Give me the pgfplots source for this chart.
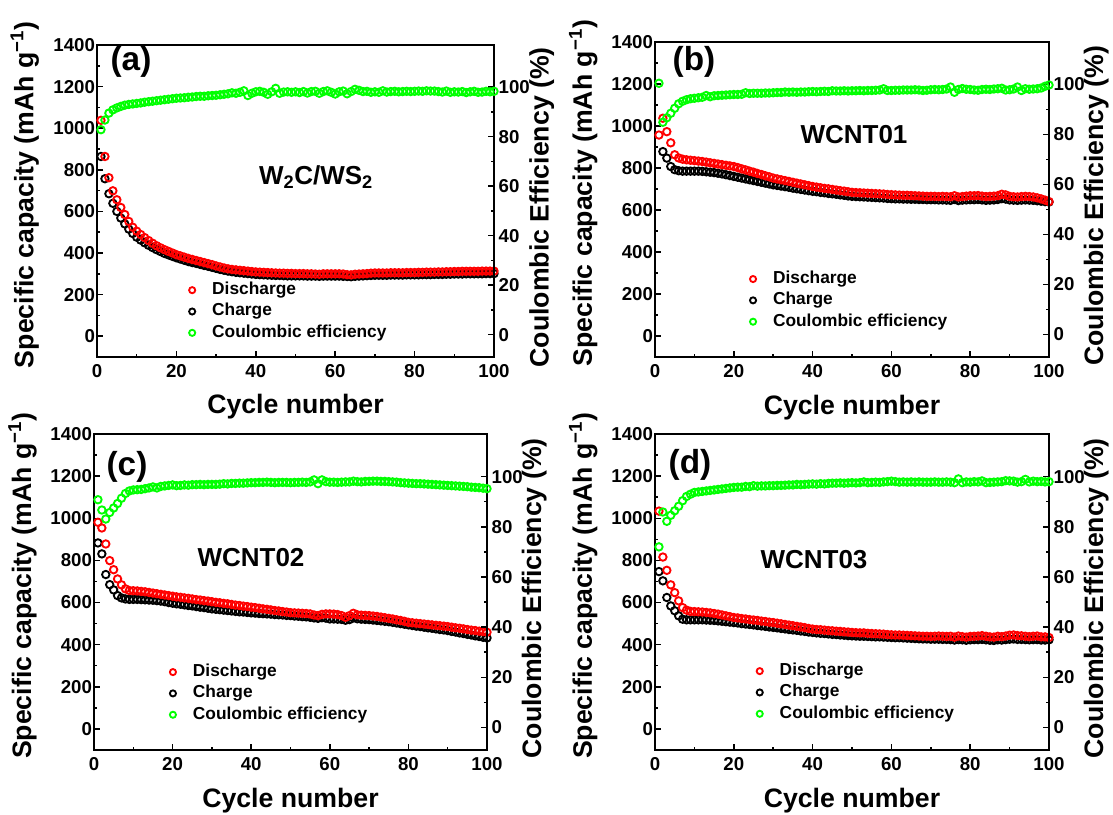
\documentclass[border=0pt]{standalone}
\usepackage{fontspec}
\setmainfont{Liberation Sans}
\usepackage{pgfplots}
\usepackage{pgfplotstable}
\pgfplotsset{compat=1.18}

\definecolor{cered}{HTML}{FF0000}
\definecolor{cegreen}{HTML}{00FF00}

% cycle, discharge, charge, coulombic efficiency
\pgfplotstableread{
c d ch ce
1 1038 864 82.8
2 864 757 86.7
3 762 685 89.5
4 699 639 90.8
5 656 600 91.6
6 619 568 92.2
7 585 540 92.7
8 552 515 93.0
9 524 494 93.2
10 505 476 93.4
11 489 462 93.6
12 474 449 93.9
13 460 437 94.1
14 447 426 94.3
15 435 416 94.5
16 425 407 94.7
17 416 398 94.9
18 408 391 95.1
19 400 384 95.3
20 392 377 95.5
21 386 371 95.6
22 380 365 95.7
23 374 359 95.9
24 369 354 96.0
25 364 350 96.2
26 359 345 96.3
27 354 340 96.3
28 349 336 96.5
29 344 331 96.6
30 338 326 96.7
31 333 321 96.9
32 328 317 97.1
33 324 313 97.3
34 321 310 97.7
35 319 307 97.5
36 317 305 97.9
37 315 303 98.5
38 313 301 96.6
39 311 299 97.5
40 309 297 98.1
41 308 296 98.3
42 307 295 97.9
43 306 294 97.1
44 305 293 98.1
45 304 292 99.5
46 303 292 97.5
47 303 291 98.0
48 302 290 98.1
49 302 290 97.9
50 301 290 98.1
51 301 290 97.8
52 301 290 98.2
53 300 289 97.6
54 300 289 98.2
55 299 289 98.3
56 298 288 97.5
57 300 289 98.2
58 300 289 98.5
59 300 289 97.9
60 300 289 97.2
61 300 289 98.1
62 299 288 98.4
63 296 287 97.3
64 295 286 98.2
65 298 288 99.1
66 299 289 98.7
67 300 290 98.2
68 301 291 98.3
69 303 292 97.9
70 304 293 98.1
71 304 293 97.9
72 304 293 98.5
73 304 293 98.0
74 305 294 98.2
75 305 294 98.3
76 305 294 98.1
77 305 294 98.2
78 306 295 98.3
79 306 295 98.2
80 306 295 98.3
81 307 295 98.4
82 307 296 98.3
83 308 296 98.5
84 308 296 98.4
85 308 297 98.4
86 309 297 98.2
87 309 297 98.0
88 310 298 98.4
89 310 298 97.9
90 311 299 98.1
91 311 299 98.0
92 312 299 98.2
93 312 300 97.8
94 312 300 98.1
95 312 300 98.3
96 312 300 97.9
97 313 300 98.0
98 313 301 98.3
99 313 301 98.1
100 313 301 98.3
}\tA

\pgfplotstableread{
c d ch ce
1 957 nan 100.5
2 1037 878 84.9
3 973 847 86.7
4 920 807 88.5
5 863 792 90.5
6 848 787 92.3
7 842 785 93.3
8 839 785 93.9
9 837 785 94.3
10 835 785 94.5
11 833 785 94.7
12 831 784 94.9
13 828 782 95.6
14 825 780 95.1
15 822 778 95.5
16 819 775 95.6
17 816 772 95.7
18 813 768 95.8
19 810 764 95.9
20 807 760 96.0
21 802 756 96.0
22 796 752 96.1
23 791 748 96.7
24 785 744 96.4
25 780 740 96.5
26 774 736 96.5
27 769 732 96.5
28 763 728 96.6
29 758 724 96.6
30 752 720 96.7
31 748 717 96.8
32 744 714 96.8
33 740 711 97.0
34 736 708 96.9
35 732 704 97.0
36 728 701 96.9
37 724 698 97.0
38 720 695 97.0
39 716 692 97.1
40 712 689 97.2
41 709 687 97.1
42 706 684 97.2
43 703 682 97.3
44 701 679 97.2
45 698 677 97.5
46 695 675 97.4
47 692 672 97.4
48 690 670 97.5
49 687 667 97.4
50 684 665 97.5
51 683 664 97.5
52 682 663 97.6
53 681 662 97.5
54 680 661 97.6
55 679 660 97.6
56 678 659 97.7
57 677 658 97.8
58 676 657 98.3
59 674 655 97.6
60 673 654 97.6
61 672 653 97.7
62 671 653 97.7
63 670 652 97.8
64 670 652 97.8
65 669 651 97.8
66 668 651 97.9
67 667 650 97.8
68 666 650 97.6
69 665 649 97.7
70 665 649 97.9
71 665 649 98.0
72 664 648 97.9
73 665 648 98.0
74 664 647 98.2
75 663 646 99.0
76 668 650 96.9
77 662 645 98.0
78 664 647 98.4
79 666 648 98.1
80 668 649 98.0
81 668 649 97.8
82 669 650 97.7
83 666 648 98.0
84 664 646 98.1
85 665 647 98.0
86 666 648 98.2
87 668 650 98.3
88 675 654 98.5
89 672 652 97.8
90 665 648 97.9
91 663 647 98.2
92 662 646 99.0
93 664 647 97.6
94 665 648 98.3
95 664 647 98.1
96 662 646 98.2
97 658 644 98.3
98 653 642 98.6
99 647 640 99.3
100 640 638 99.8
}\tB

\pgfplotstableread{
c d ch ce
1 981 883 90.8
2 954 831 86.7
3 878 733 83.1
4 799 685 85.7
5 756 660 87.5
6 712 633 89.3
7 684 622 91.4
8 665 617 93.3
9 657 615 94.3
10 656 615 94.7
11 655 615 94.8
12 653 614 94.9
13 651 613 95.2
14 648 612 95.5
15 645 611 95.9
16 642 609 95.5
17 639 607 96.1
18 636 604 96.3
19 633 600 96.5
20 630 597 96.7
21 627 594 96.4
22 625 592 96.5
23 622 589 96.7
24 620 586 96.6
25 617 584 96.8
26 614 581 96.8
27 612 578 96.9
28 609 576 96.8
29 607 573 96.9
30 604 570 96.9
31 601 568 96.9
32 599 566 97.0
33 596 564 97.2
34 594 562 97.1
35 591 560 97.3
36 588 558 97.3
37 586 556 97.4
38 583 555 97.4
39 581 553 97.5
40 578 551 97.6
41 576 550 97.6
42 573 548 97.7
43 570 547 97.7
44 568 546 97.8
45 565 545 97.7
46 562 543 97.6
47 560 542 97.7
48 557 541 97.7
49 555 539 97.7
50 552 538 97.6
51 551 536 97.7
52 550 535 97.7
53 549 533 97.8
54 548 532 97.7
55 546 530 97.9
56 541 527 98.7
57 538 525 97.2
58 544 528 98.7
59 546 526 98.0
60 546 522 97.8
61 545 522 97.8
62 543 521 97.7
63 538 520 97.8
64 530 516 97.9
65 538 519 97.9
66 549 527 98.2
67 542 523 98.0
68 540 521 97.9
69 539 520 98.1
70 538 519 98.1
71 536 517 98.2
72 534 515 98.2
73 531 513 98.1
74 528 511 98.1
75 525 509 98.0
76 522 506 97.9
77 518 503 97.8
78 515 500 97.6
79 511 497 97.5
80 506 494 97.4
81 504 491 97.3
82 502 488 97.2
83 500 486 97.2
84 498 483 97.1
85 496 480 97.0
86 494 478 96.9
87 492 475 96.8
88 490 472 96.7
89 488 470 96.6
90 486 467 96.5
91 483 463 96.4
92 480 460 96.3
93 478 456 96.2
94 475 453 96.1
95 472 449 96.0
96 469 446 95.8
97 467 442 95.7
98 464 439 95.6
99 462 435 95.4
100 459 432 95.2
}\tC

\pgfplotstableread{
c d ch ce
1 1034 747 72.0
2 816 703 85.9
3 753 624 82.2
4 684 584 84.6
5 647 561 86.4
6 608 537 88.2
7 576 521 90.4
8 564 518 92.1
9 558 518 93.0
10 557 518 93.7
11 556 518 93.9
12 555 518 94.1
13 553 517 94.3
14 551 516 94.5
15 548 515 94.7
16 545 513 94.9
17 541 511 95.1
18 537 509 95.3
19 533 507 95.5
20 529 505 95.7
21 527 503 95.8
22 524 500 95.8
23 522 498 96.1
24 519 496 96.0
25 517 494 96.4
26 515 491 96.2
27 512 489 96.3
28 510 487 96.3
29 507 484 96.4
30 505 482 96.4
31 502 480 96.5
32 499 477 96.5
33 496 475 96.6
34 493 472 96.7
35 490 470 96.7
36 487 468 96.9
37 484 465 96.8
38 481 463 96.9
39 477 460 97.0
40 474 458 97.1
41 472 456 97.0
42 471 454 97.2
43 469 453 97.1
44 467 451 97.3
45 466 449 97.4
46 464 448 97.4
47 463 446 97.5
48 461 445 97.4
49 460 443 97.5
50 458 442 97.6
51 457 441 97.5
52 456 440 97.6
53 456 440 97.9
54 454 439 97.6
55 453 438 97.7
56 452 437 97.8
57 451 437 97.7
58 450 436 97.9
59 448 435 98.0
60 447 434 98.2
61 446 433 98.0
62 446 433 97.8
63 445 432 97.9
64 444 431 97.8
65 443 430 97.9
66 442 429 97.8
67 441 428 97.9
68 440 427 97.8
69 440 427 97.8
70 439 426 97.8
71 440 426 97.9
72 441 426 97.8
73 440 425 97.8
74 439 425 97.9
75 440 424 97.8
76 436 422 97.6
77 441 424 99.1
78 438 423 97.6
79 436 421 97.9
80 439 423 97.8
81 440 424 98.0
82 441 424 97.9
83 443 425 98.3
84 440 423 97.6
85 437 421 97.7
86 436 420 97.8
87 440 423 97.9
88 438 422 98.0
89 441 424 98.4
90 445 426 98.3
91 446 427 98.2
92 443 425 97.8
93 442 425 98.0
94 440 424 98.9
95 438 423 97.9
96 440 424 98.2
97 441 424 98.0
98 437 422 98.1
99 437 422 97.9
100 434 423 98.0
}\tD

\pgfplotsset{
  base/.style={
    scale only axis, anchor=south west,
    xmin=0, xmax=100, xtick={0,20,...,100}, minor x tick num=1,
    tick align=inside, major tick length=4.5pt, minor tick length=2.6pt,
    tick style={black, line width=1.1pt},
    axis line style={line width=1.1pt},
    ticklabel style={font=\fontsize{14}{16}\selectfont\bfseries},
    /pgf/number format/assume math mode=true,
    /pgf/number format/1000 sep={},
    label style={font=\fontsize{20}{24}\selectfont\bfseries},
  },
  capax/.style={
    base, ymin=-100, ymax=1400, ytick={0,200,...,1400}, minor y tick num=1,
    tick pos=left,
    xlabel={Cycle number},
    ylabel={Specific capacity (mAh g\textsuperscript{−1})},
    xlabel style={at={(axis description cs:0.5,-0.16)}, anchor=center},
    ylabel style={at={(axis description cs:-0.182,0.52)}, anchor=center},
    xticklabel style={yshift=-2pt},
    yticklabel style={xshift=2pt},
  },
  ceax/.style={
    base, axis x line=none, axis y line*=right,
    ymin=-9, ymax=117, ytick={0,20,...,100}, minor y tick num=1,
    ylabel={Coulombic Efficiency (\%)},
    ylabel style={at={(axis description cs:1.12,0.48)}, anchor=center},
    legend cell align=left,
    legend image code/.code={
      \draw[##1, mark size=2.3pt] plot coordinates {(0pt,0pt)};
      \path[draw=none] (-3pt,0pt) -- (14pt,0pt);
    },
    legend style={draw=none, fill=none, inner sep=0pt, anchor=north west,
      font=\fontsize{13}{15}\selectfont\bfseries,
      nodes={inner sep=1pt, text height=9.3pt, text depth=2.7pt},
      row sep=2pt},
  },
  dis/.style={only marks, mark=o, mark size=2.8pt, line width=1.4pt, color=cered},
  chg/.style={only marks, mark=o, mark size=2.8pt, line width=1.4pt, color=black},
  cef/.style={only marks, mark=o, mark size=2.8pt, line width=1.4pt, color=cegreen},
}

\begin{document}
\begin{tikzpicture}
\path[use as bounding box] (0pt,0pt) rectangle (834.75pt,-610.5pt);

% (a)
\begin{axis}[capax, at={(72.75pt,-267.75pt)}, width=297.75pt, height=234pt]
\addplot[chg] table[x=c, y=ch] {\tA};
\addplot[dis] table[x=c, y=d] {\tA};
\end{axis}
\begin{axis}[ceax, at={(72.75pt,-267.75pt)}, width=297.75pt, height=234pt,
  legend style={at={(axis description cs:0.229,0.245)}}]
\addlegendimage{dis}\addlegendentry{Discharge}
\addlegendimage{chg}\addlegendentry{Charge}
\addplot[cef] table[x=c, y=ce] {\tA};
\addlegendentry{Coulombic efficiency}
\end{axis}

% (b)
\begin{axis}[capax, at={(491.25pt,-267.75pt)}, width=295.5pt, height=236.25pt]
\addplot[chg] table[x=c, y=ch] {\tB};
\addplot[dis] table[x=c, y=d] {\tB};
\end{axis}
\begin{axis}[ceax, at={(491.25pt,-267.75pt)}, width=295.5pt, height=236.25pt,
  legend style={at={(axis description cs:0.238,0.278)}}]
\addlegendimage{dis}\addlegendentry{Discharge}
\addlegendimage{chg}\addlegendentry{Charge}
\addplot[cef] table[x=c, y=ce] {\tB};
\addlegendentry{Coulombic efficiency}
\end{axis}

% (c)
\begin{axis}[capax, at={(70.5pt,-562.5pt)}, width=294.75pt, height=237pt]
\addplot[chg] table[x=c, y=ch] {\tC};
\addplot[dis] table[x=c, y=d] {\tC};
\end{axis}
\begin{axis}[ceax, at={(70.5pt,-562.5pt)}, width=294.75pt, height=237pt,
  legend style={at={(axis description cs:0.19,0.277)}}]
\addlegendimage{dis}\addlegendentry{Discharge}
\addlegendimage{chg}\addlegendentry{Charge}
\addplot[cef] table[x=c, y=ce] {\tC};
\addlegendentry{Coulombic efficiency}
\end{axis}

% (d)
\begin{axis}[capax, at={(491.25pt,-562.5pt)}, width=295.5pt, height=237pt]
\addplot[chg] table[x=c, y=ch] {\tD};
\addplot[dis] table[x=c, y=d] {\tD};
\end{axis}
\begin{axis}[ceax, at={(491.25pt,-562.5pt)}, width=295.5pt, height=237pt,
  legend style={at={(axis description cs:0.255,0.28)}}]
\addlegendimage{dis}\addlegendentry{Discharge}
\addlegendimage{chg}\addlegendentry{Charge}
\addplot[cef] table[x=c, y=ce] {\tD};
\addlegendentry{Coulombic efficiency}
\end{axis}

% panel letters and sample names
\begin{scope}[every node/.style={font=\fontsize{25}{30}\selectfont\bfseries, inner sep=0pt}]
\node at (98.25pt,-46.5pt) {(a)};
\node at (520.5pt,-46.5pt) {(b)};
\node at (95.25pt,-350.25pt) {(c)};
\node at (517.5pt,-348.75pt) {(d)};
\end{scope}
\begin{scope}[every node/.style={font=\fontsize{19.5}{23}\selectfont\bfseries, inner sep=0pt}]
\node at (237pt,-132.75pt) {W\textsubscript{2}C/WS\textsubscript{2}};
\node at (640.5pt,-101.25pt) {WCNT01};
\node at (188.25pt,-418.5pt) {WCNT02};
\node at (610.5pt,-420pt) {WCNT03};
\end{scope}
\end{tikzpicture}
\end{document}
